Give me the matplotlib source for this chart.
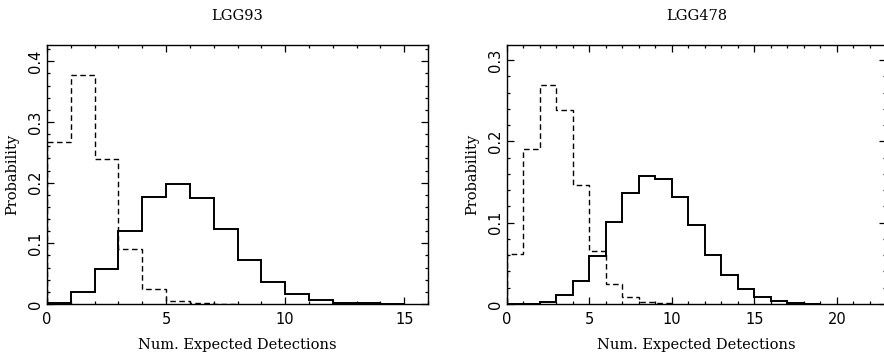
import matplotlib
matplotlib.use("Agg")
import matplotlib.pyplot as plt
from matplotlib.ticker import MultipleLocator
import numpy as np

# LGG93 histograms (unit-width bins starting at 0)
lgg93_solid = [0.002, 0.019, 0.058, 0.120, 0.177, 0.198, 0.174, 0.124, 0.073,
               0.036, 0.016, 0.007, 0.002, 0.001, 0.0005]
lgg93_dashed = [0.267, 0.378, 0.239, 0.091, 0.024, 0.005, 0.001, 0.0]

# LGG478 histograms
lgg478_solid = [0.0, 0.0, 0.002, 0.011, 0.028, 0.059, 0.101, 0.136, 0.157,
                0.154, 0.132, 0.097, 0.060, 0.036, 0.018, 0.008, 0.004,
                0.001, 0.0005]
lgg478_dashed = [0.062, 0.190, 0.269, 0.238, 0.146, 0.065, 0.024, 0.008,
                 0.002, 0.001]

panels = [
    ("LGG93", lgg93_solid, lgg93_dashed, 16, 0.427, [0.0532, 0.1485, 0.431, 0.7255]),
    ("LGG478", lgg478_solid, lgg478_dashed, 23, 0.3185, [0.5732, 0.1485, 0.4296, 0.7255]),
]

serif = "DejaVu Serif"
fig = plt.figure(figsize=(8.84, 3.57), dpi=100)
fig.patch.set_facecolor("white")

for title, solid, dashed, xmax, ymax, pos in panels:
    ax = fig.add_axes(pos)
    ax.stairs(solid, np.arange(len(solid) + 1), color="black", lw=1.4)
    ax.stairs(dashed, np.arange(len(dashed) + 1), color="black", lw=1.0,
              linestyle=(0, (4, 2.5)))
    ax.set_xlim(0, xmax)
    ax.set_ylim(0, ymax)
    ax.xaxis.set_major_locator(MultipleLocator(5))
    ax.xaxis.set_minor_locator(MultipleLocator(1))
    ax.yaxis.set_major_locator(MultipleLocator(0.1))
    ax.yaxis.set_minor_locator(MultipleLocator(0.02))
    ax.yaxis.set_major_formatter(lambda v, p: "0" if abs(v) < 1e-9 else f"{v:.1f}")
    ax.tick_params(which="both", direction="in", top=True, right=True,
                   width=0.9, labelsize=10.5)
    ax.tick_params(which="major", length=5)
    ax.tick_params(which="minor", length=2.5)
    ax.tick_params(axis="x", pad=6)
    ax.tick_params(axis="y", pad=3)
    for lab in ax.get_yticklabels():
        lab.set_rotation(90)
        lab.set_va("center")
    for sp in ax.spines.values():
        sp.set_linewidth(1.0)
    ax.set_title(title, family=serif, fontsize=10.5, pad=18)
    ax.set_xlabel("Num. Expected Detections", family=serif, fontsize=10.5, labelpad=8)
    ax.set_ylabel("Probability", family=serif, fontsize=10.5, labelpad=6)

fig.savefig("out.png", dpi=100, facecolor="white")
